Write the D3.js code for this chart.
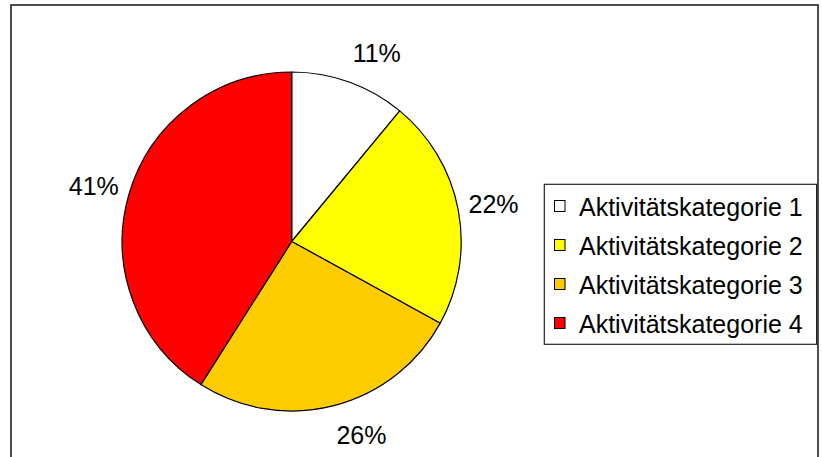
<!DOCTYPE html>
<html>
<head>
<meta charset="utf-8">
<script src="https://cdn.jsdelivr.net/npm/d3@7"></script>
<style>
  html, body { margin: 0; padding: 0; background: #fff; }
  svg { display: block; }
  text { font-family: "Liberation Sans", Arial, sans-serif; }
</style>
</head>
<body>
<svg id="chart" width="822" height="457"></svg>
<script>
// Share of each activity category (percent)
const categories = ["Aktivitätskategorie 1", "Aktivitätskategorie 2", "Aktivitätskategorie 3", "Aktivitätskategorie 4"];
const values = [11, 22, 26, 41];
const colors = ["#FFFFFF", "#FFFF00", "#FFCC00", "#FF0000"];

const svg = d3.select("#chart");
const W = 822, H = 457;

svg.append("rect").attr("width", W).attr("height", H).attr("fill", "#fff");

// Outer chart frame
svg.append("rect")
  .attr("x", 11).attr("y", 5)
  .attr("width", 807).attr("height", 470)
  .attr("fill", "none")
  .attr("stroke", "#222")
  .attr("stroke-width", 1.6);

const cx = 291.7, cy = 241.5, r = 169.5;
const total = d3.sum(values);

const pie = d3.pie().sort(null).value(d => d)(values);
const arc = d3.arc().innerRadius(0).outerRadius(r);

const g = svg.append("g").attr("transform", `translate(${cx},${cy})`);

g.selectAll("path.slice")
  .data(pie)
  .join("path")
  .attr("class", "slice")
  .attr("d", arc)
  .attr("fill", (d, i) => colors[i])
  .attr("stroke", "#000")
  .attr("stroke-width", 1.2)
  .attr("stroke-linejoin", "round");

// Percentage labels placed outside the pie, box pushed away from the edge
const fmt = v => Math.round(v / total * 100) + "%";
const labelR = 180;
g.selectAll("text.pct")
  .data(pie)
  .join("text")
  .attr("class", "pct")
  .attr("font-size", 25)
  .attr("fill", "#000")
  .attr("text-anchor", "middle")
  .text(d => fmt(d.value))
  .each(function(d) {
    const a = (d.startAngle + d.endAngle) / 2;
    const s = Math.sin(a), c = Math.cos(a);
    const w = this.getComputedTextLength();
    const x = labelR * s + Math.sign(s) * w / 2;
    const y = -labelR * c - c * 20;
    d3.select(this).attr("x", x).attr("y", y + 9);
  });

// Legend
const lx = 544.3, ly = 184.3, lw = 272.3, lh = 160;
const legend = svg.append("g");
legend.append("rect")
  .attr("x", lx).attr("y", ly)
  .attr("width", lw).attr("height", lh)
  .attr("fill", "#fff")
  .attr("stroke", "#222")
  .attr("stroke-width", 1.2);

const rowY = d3.scalePoint().domain(categories).range([206, 323]);

const rows = legend.selectAll("g.row")
  .data(categories)
  .join("g")
  .attr("class", "row")
  .attr("transform", d => `translate(0,${rowY(d)})`);

rows.append("rect")
  .attr("x", 554.5).attr("y", -5.5)
  .attr("width", 10.5).attr("height", 11)
  .attr("fill", (d, i) => colors[i])
  .attr("stroke", "#000")
  .attr("stroke-width", 1);

rows.append("text")
  .attr("x", 579)
  .attr("y", 9.5)
  .attr("font-size", 25)
  .attr("fill", "#000")
  .text(d => d);
</script>
</body>
</html>
